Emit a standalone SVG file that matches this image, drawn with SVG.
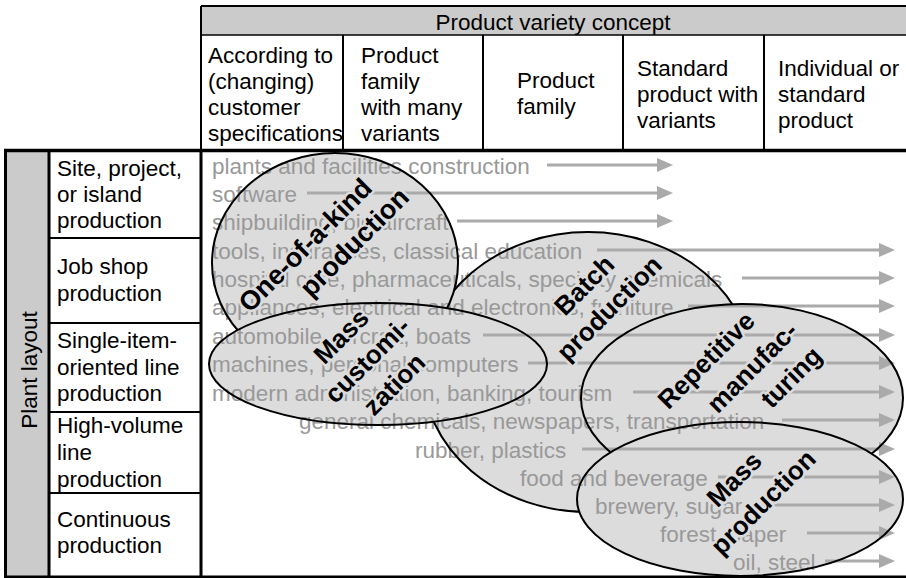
<svg xmlns="http://www.w3.org/2000/svg" width="906" height="578" viewBox="0 0 906 578">
<defs>
<style>
text{font-family:"Liberation Sans",Arial,Helvetica,sans-serif}
.t{font-size:22.5px;fill:#000}
.g{font-size:22.5px;fill:#999}
.fill{fill:#dcdcdc}
.o{fill:none;stroke:#000;stroke-width:2}
.lb{font-size:26px;font-weight:bold;fill:#000;stroke:#dcdcdc;stroke-width:5;stroke-linejoin:round;paint-order:stroke;text-anchor:middle}
.big{font-size:27px}
.a{stroke:#aaa;stroke-width:3;fill:none;marker-end:url(#ah)}
.ln{stroke:#000;fill:none}
.band{fill:#cbcbcb}
</style>
<marker id="ah" markerUnits="userSpaceOnUse" markerWidth="16" markerHeight="14" refX="8" refY="7" orient="auto"><path d="M0,0 L16,7 L0,14 z" fill="#aaa"/></marker>
<ellipse id="eO" cx="335" cy="263" rx="123" ry="110"/>
<ellipse id="eB" cx="588" cy="372" rx="165" ry="140"/>
<ellipse id="eM" cx="378" cy="364" rx="169" ry="61"/>
<ellipse id="eR" cx="742" cy="398" rx="161" ry="94"/>
<ellipse id="eP" cx="740" cy="499" rx="163" ry="77"/>
<mask id="mB" maskUnits="userSpaceOnUse" x="0" y="0" width="906" height="578"><rect width="906" height="578" fill="#fff"/><use href="#eO" fill="#000"/><use href="#eM" fill="#000"/><use href="#eR" fill="#000"/><use href="#eP" fill="#000"/></mask>
<mask id="mO" maskUnits="userSpaceOnUse" x="0" y="0" width="906" height="578"><rect width="906" height="578" fill="#fff"/><use href="#eM" fill="#000"/></mask>
<mask id="mR" maskUnits="userSpaceOnUse" x="0" y="0" width="906" height="578"><rect width="906" height="578" fill="#fff"/><use href="#eP" fill="#000"/></mask>
</defs>
<rect width="906" height="578" fill="#fff"/>

<g id="table">
  <rect class="band" x="201" y="6" width="705" height="29"/>
  <rect class="band" x="5" y="150" width="44" height="427"/>
  <path class="ln" stroke-width="2" d="M201,6 H906 M201,6 V150 M343,35 V150 M483,35 V150 M623,35 V150 M764,35 V150"/>
  <path class="ln" stroke-width="1.5" d="M201,35 H906"/>
  <path class="ln" stroke-width="3.5" d="M4,150.5 H906"/>
  <path class="ln" stroke-width="3" d="M5.5,150 V577 M49,150 V577 M201,150 V577 M4,577 H906"/>
  <path class="ln" stroke-width="2" d="M49,238 H201 M49,323 H201 M49,412 H201 M49,493 H201"/>
</g>

<g id="header-title"><text class="t" x="553" y="30" text-anchor="middle">Product variety concept</text></g>
<g id="col-1"><text class="t" x="208" y="63">According to</text><text class="t" x="208" y="89">(changing)</text><text class="t" x="208" y="115">customer</text><text class="t" x="208" y="141">specifications</text></g>
<g id="col-2"><text class="t" x="361" y="63">Product</text><text class="t" x="361" y="89">family</text><text class="t" x="361" y="115">with many</text><text class="t" x="361" y="141">variants</text></g>
<g id="col-3"><text class="t" x="517" y="88">Product</text><text class="t" x="517" y="114">family</text></g>
<g id="col-4"><text class="t" x="637" y="76">Standard</text><text class="t" x="637" y="102">product with</text><text class="t" x="637" y="128">variants</text></g>
<g id="col-5"><text class="t" x="778" y="76">Individual or</text><text class="t" x="778" y="102">standard</text><text class="t" x="778" y="128">product</text></g>

<g id="plant-layout"><text class="t" transform="translate(37,370) rotate(-90)" text-anchor="middle">Plant layout</text></g>
<g id="row-1"><text class="t" x="57" y="176">Site, project,</text><text class="t" x="57" y="202">or island</text><text class="t" x="57" y="228">production</text></g>
<g id="row-2"><text class="t" x="57" y="274">Job shop</text><text class="t" x="57" y="301">production</text></g>
<g id="row-3"><text class="t" x="57" y="348">Single-item-</text><text class="t" x="57" y="375">oriented line</text><text class="t" x="57" y="401">production</text></g>
<g id="row-4"><text class="t" x="57" y="433">High-volume</text><text class="t" x="57" y="460">line</text><text class="t" x="57" y="487">production</text></g>
<g id="row-5"><text class="t" x="57" y="527">Continuous</text><text class="t" x="57" y="553">production</text></g>

<g id="ellipse-fills" class="fill">
  <use href="#eB"/><use href="#eO"/><use href="#eM"/><use href="#eR"/><use href="#eP"/>
</g>

<g id="examples">
  <text class="g" x="212" y="174">plants and facilities construction</text>
  <text class="g" x="212" y="202">software</text>
  <text class="g" x="212" y="230">shipbuilding, big aircraft</text>
  <text class="g" x="212" y="259">tools, insurances, classical education</text>
  <text class="g" x="212" y="287">hospital care, pharmaceuticals, specialty chemicals</text>
  <text class="g" x="212" y="315">appliances, electrical and electronics, furniture</text>
  <text class="g" x="212" y="344">automobile, aircraft, boats</text>
  <text class="g" x="212" y="372">machines, personal computers</text>
  <text class="g" x="212" y="401">modern administration, banking, tourism</text>
  <text class="g" x="299" y="429">general chemicals, newspapers, transportation</text>
  <text class="g" x="415" y="458">rubber, plastics</text>
  <text class="g" x="520" y="486">food and beverage</text>
  <text class="g" x="595" y="514">brewery, sugar</text>
  <text class="g" x="660" y="542">forest, paper</text>
  <text class="g" x="733" y="570">oil, steel</text>
</g>

<g id="connectors">
  <line class="a" x1="547" y1="165" x2="665" y2="165"/>
  <line class="a" x1="307" y1="193" x2="665" y2="193"/>
  <line class="a" x1="457" y1="221" x2="665" y2="221"/>
  <line class="a" x1="597" y1="250" x2="887" y2="250"/>
  <line class="a" x1="742" y1="278" x2="887" y2="278"/>
  <line class="a" x1="688" y1="306" x2="887" y2="306"/>
  <line class="a" x1="483" y1="335" x2="887" y2="335"/>
  <line class="a" x1="528" y1="363" x2="887" y2="363"/>
  <line class="a" x1="633" y1="392" x2="887" y2="392"/>
  <line class="a" x1="782" y1="420" x2="887" y2="420"/>
  <line class="a" x1="582" y1="449" x2="887" y2="449"/>
  <line class="a" x1="718" y1="477" x2="887" y2="477"/>
  <line class="a" x1="755" y1="505" x2="887" y2="505"/>
  <line class="a" x1="807" y1="533" x2="887" y2="533"/>
  <line class="a" x1="825" y1="561" x2="887" y2="561"/>
</g>

<g id="batch-production">
  <use href="#eB" class="o" mask="url(#mB)"/>
  <text class="lb" transform="translate(585,286) rotate(-45)" dy="0.3em">Batch</text>
  <text class="lb" transform="translate(610,309) rotate(-45)" dy="0.3em">production</text>
</g>
<g id="one-of-a-kind-production">
  <use href="#eO" class="o" mask="url(#mO)"/>
  <text class="lb big" transform="translate(306,246) rotate(-45)" dy="0.3em">One-of-a-kind</text>
  <text class="lb big" transform="translate(355,243) rotate(-45)" dy="0.3em">production</text>
</g>
<g id="mass-customization">
  <use href="#eM" class="o"/>
  <text class="lb" transform="translate(342,337) rotate(-45)" dy="0.3em">Mass</text>
  <text class="lb" transform="translate(368,361) rotate(-45)" dy="0.3em">customi-</text>
  <text class="lb" transform="translate(395,385) rotate(-45)" dy="0.3em">zation</text>
</g>
<g id="repetitive-manufacturing">
  <use href="#eR" class="o" mask="url(#mR)"/>
  <text class="lb" transform="translate(707,361) rotate(-45)" dy="0.3em">Repetitive</text>
  <text class="lb" transform="translate(753,368) rotate(-45)" dy="0.3em">manufac-</text>
  <text class="lb" transform="translate(792,378) rotate(-45)" dy="0.3em">turing</text>
</g>
<g id="mass-production">
  <use href="#eP" class="o"/>
  <text class="lb" transform="translate(735,480) rotate(-45)" dy="0.3em">Mass</text>
  <text class="lb" transform="translate(764,503) rotate(-45)" dy="0.3em">production</text>
</g>
</svg>
